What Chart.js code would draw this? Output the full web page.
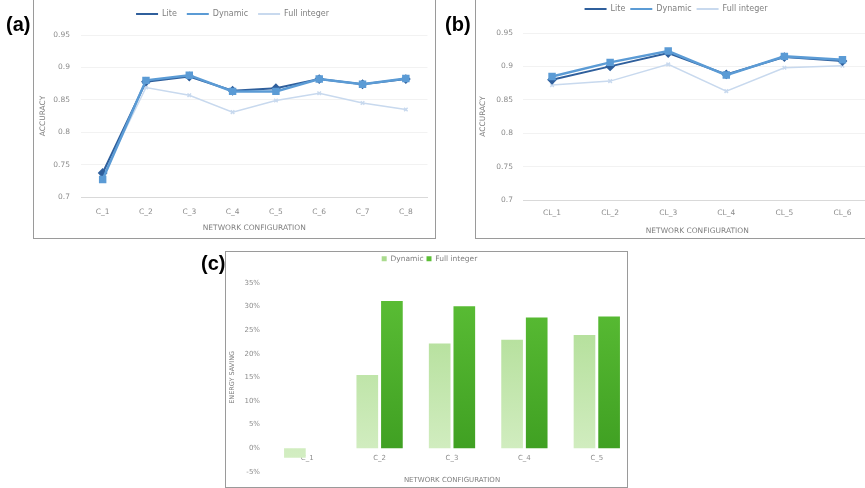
<!DOCTYPE html>
<html>
<head>
<meta charset="utf-8">
<script src="https://cdn.jsdelivr.net/npm/chart.js@4.4.1/dist/chart.umd.min.js"></script>
<style>
  html, body { margin: 0; padding: 0; background: #fff; overflow: hidden; }
  body { width: 865px; height: 488px; position: relative; }
  canvas { position: absolute; }
  .frame { position: absolute; box-sizing: border-box; border: 1px solid #9a9a9a; pointer-events: none; }
  .tag { position: absolute; font: bold 20px "Liberation Sans", Arial, sans-serif; color: #000; line-height: 1; }
</style>
</head>
<body>
<canvas id="chartA" width="400" height="237" style="left:34px; top:0px; width:400px; height:237px;"></canvas>
<canvas id="chartB" width="402" height="237" style="left:476px; top:0px; width:402px; height:237px;"></canvas>
<canvas id="chartC" width="410" height="235" style="left:226px; top:252px; width:410px; height:235px;"></canvas>

<div class="frame" style="left:33px; top:-5px; width:403px; height:244px;"></div>
<div class="frame" style="left:475px; top:-5px; width:420px; height:244px;"></div>
<div class="frame" style="left:225px; top:251px; width:403px; height:237px;"></div>

<div class="tag" style="left:6px; top:14px;">(a)</div>
<div class="tag" style="left:445px; top:14px;">(b)</div>
<div class="tag" style="left:201px; top:253px;">(c)</div>

<script>
// (a) accuracy per network configuration
const configsA = ['C_1', 'C_2', 'C_3', 'C_4', 'C_5', 'C_6', 'C_7', 'C_8'];
const liteA = [0.737, 0.878, 0.886, 0.864, 0.868, 0.882, 0.874, 0.882];
const dynamicA = [0.727, 0.880, 0.888, 0.863, 0.863, 0.882, 0.874, 0.883];
const fullIntA = [0.732, 0.869, 0.857, 0.831, 0.849, 0.860, 0.845, 0.835];

// (b)
const configsB = ['CL_1', 'CL_2', 'CL_3', 'CL_4', 'CL_5', 'CL_6'];
const liteB = [0.880, 0.900, 0.920, 0.888, 0.914, 0.908];
const dynamicB = [0.885, 0.906, 0.923, 0.887, 0.915, 0.910];
const fullIntB = [0.872, 0.878, 0.903, 0.863, 0.898, 0.901];

const accuracyTicks = [0.7, 0.75, 0.8, 0.85, 0.9, 0.95];

// (c) energy saving (%)
const configsC = ['C_1', 'C_2', 'C_3', 'C_4', 'C_5'];
const dynamicSaving = [-2.0, 15.5, 22.2, 23.0, 24.0];
const fullIntSaving = [0, 31.2, 30.1, 27.7, 27.9];
const savingTicks = [-5, 0, 5, 10, 15, 20, 25, 30, 35];

Chart.defaults.font.family = '"DejaVu Sans", "Liberation Sans", sans-serif';
Chart.defaults.font.size = 7;
Chart.defaults.color = '#8c8c8c';
Chart.defaults.animation = false;
Chart.defaults.devicePixelRatio = 1;

// fixes the legend band height so the plot top lands where it should
function legendBand(h) {
    return {
        id: 'legendBand',
        beforeInit(chart) {
            const fit = chart.legend.fit;
            chart.legend.fit = function () {
                fit.call(this);
                this.height = h;
            };
        }
    };
}

function flatLabels(chart) {
    return Chart.defaults.plugins.legend.labels.generateLabels(chart).map(l => ({ ...l, lineWidth: 0 }));
}

function accuracyChart(id, labels, lite, dyn, full, lay) {
    const ctx = document.getElementById(id).getContext('2d');
    return new Chart(ctx, {
        type: 'line',
        data: {
            labels: labels,
            datasets: [
                {
                    label: 'Lite',
                    data: lite,
                    borderColor: '#2f5f9c',
                    backgroundColor: '#2f5f9c',
                    borderWidth: 2,
                    pointStyle: 'rectRot',
                    pointRadius: 3.5,
                    tension: 0,
                    order: 1
                },
                {
                    label: 'Dynamic',
                    data: dyn,
                    borderColor: '#5b9bd5',
                    backgroundColor: '#5b9bd5',
                    borderWidth: 2.5,
                    pointStyle: 'rect',
                    pointRadius: 3.5,
                    tension: 0,
                    order: 0
                },
                {
                    label: 'Full integer',
                    data: full,
                    borderColor: '#c8d9ee',
                    backgroundColor: '#c8d9ee',
                    borderWidth: 1.5,
                    pointStyle: 'crossRot',
                    pointRadius: 2.5,
                    tension: 0,
                    order: 2
                }
            ]
        },
        options: {
            responsive: false,
            maintainAspectRatio: false,
            layout: { padding: { left: 0, right: lay.right, top: 0, bottom: 0 } },
            plugins: {
                legend: {
                    labels: {
                        boxWidth: 22,
                        boxHeight: 2,
                        padding: lay.legendPad,
                        color: '#7f7f7f',
                        font: { size: 8 },
                        generateLabels: flatLabels,
                        sort: (a, b) => a.datasetIndex - b.datasetIndex
                    }
                },
                tooltip: { enabled: false }
            },
            scales: {
                x: {
                    offset: true,
                    grid: { display: false, drawTicks: false },
                    border: { color: '#d9d9d9', dash: [2, 2] },
                    ticks: { padding: lay.xTickPad, color: '#8c8c8c', font: { size: 7.5 } },
                    title: {
                        display: true,
                        text: 'NETWORK CONFIGURATION',
                        color: '#7f7f7f',
                        font: { size: 7.5 },
                        padding: { top: 0, bottom: lay.xTitlePad }
                    },
                    afterFit(scale) { scale.height = lay.xHeight; }
                },
                y: {
                    min: accuracyTicks[0],
                    max: accuracyTicks[accuracyTicks.length - 1],
                    grid: { color: '#f2f2f2', drawTicks: false },
                    border: { display: false },
                    ticks: {
                        stepSize: 0.05,
                        padding: lay.yTickPad,
                        font: { size: 7.5 },
                        callback: v => String(+v.toFixed(2))
                    },
                    title: {
                        display: true,
                        text: 'ACCURACY',
                        color: '#7f7f7f',
                        font: { size: 7.5 },
                        padding: { top: lay.yTitlePad, bottom: 0 }
                    },
                    afterFit(scale) { scale.width = 47; }
                }
            }
        },
        plugins: [legendBand(lay.legendH)]
    });
}

function barFill(top, bottom) {
    return function (context) {
        const area = context.chart.chartArea;
        if (!area) return top;
        const g = context.chart.ctx.createLinearGradient(0, area.top, 0, area.bottom);
        g.addColorStop(0, top);
        g.addColorStop(1, bottom);
        return g;
    };
}

window.onload = function () {
    accuracyChart('chartA', configsA, liteA, dynamicA, fullIntA, {
        right: 3, legendH: 35, legendPad: 10, xHeight: 40, xTickPad: 11, xTitlePad: 4, yTickPad: 11, yTitlePad: 5
    });
    accuracyChart('chartB', configsB, liteB, dynamicB, fullIntB, {
        right: 2, legendH: 33, legendPad: 5, xHeight: 37, xTickPad: 9, xTitlePad: 1, yTickPad: 10, yTitlePad: 3
    });

    const ctxC = document.getElementById('chartC').getContext('2d');
    new Chart(ctxC, {
        type: 'bar',
        data: {
            labels: configsC,
            datasets: [
                {
                    label: 'Dynamic',
                    data: dynamicSaving,
                    backgroundColor: barFill('#aadb8e', '#d6efc6'),
                    categoryPercentage: 0.68,
                    barPercentage: 0.88
                },
                {
                    label: 'Full integer',
                    data: fullIntSaving,
                    backgroundColor: barFill('#5cbf36', '#3c9c20'),
                    categoryPercentage: 0.68,
                    barPercentage: 0.88
                }
            ]
        },
        options: {
            responsive: false,
            maintainAspectRatio: false,
            layout: { padding: { left: 0, right: 3, top: 0, bottom: 0 } },
            plugins: {
                legend: {
                    labels: {
                        boxWidth: 5,
                        boxHeight: 5,
                        padding: 3,
                        color: '#7f7f7f',
                        font: { size: 7.5 }
                    }
                },
                title: {
                    display: true,
                    position: 'bottom',
                    fullSize: false,
                    text: 'NETWORK CONFIGURATION',
                    color: '#7f7f7f',
                    font: { size: 7, weight: 'normal' },
                    padding: { top: 4, bottom: 1 }
                },
                tooltip: { enabled: false }
            },
            scales: {
                x: {
                    position: { y: 0 },
                    grid: { display: false, drawTicks: false },
                    border: { display: false },
                    ticks: { padding: 6, color: '#8c8c8c', font: { size: 7 } }
                },
                y: {
                    min: savingTicks[0],
                    max: savingTicks[savingTicks.length - 1],
                    grid: { display: false, drawTicks: false },
                    border: { display: false },
                    ticks: {
                        stepSize: 5,
                        padding: 11,
                        font: { size: 7 },
                        callback: v => v + '%'
                    },
                    title: {
                        display: true,
                        text: 'ENERGY SAVING',
                        color: '#7f7f7f',
                        font: { size: 6.5 },
                        padding: { top: 2, bottom: 0 }
                    },
                    afterFit(scale) { scale.width = 45; }
                }
            }
        },
        plugins: [legendBand(31)]
    });
};
</script>
</body>
</html>
